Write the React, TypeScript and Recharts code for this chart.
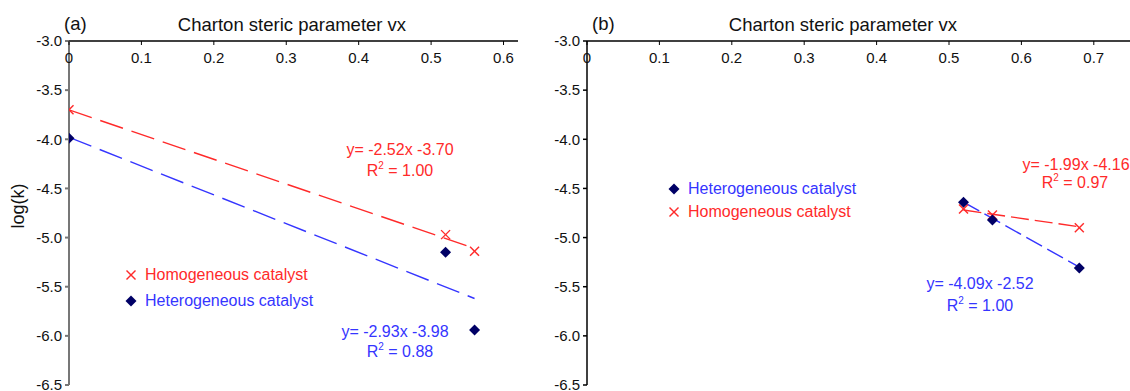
import { ScatterChart, Scatter, XAxis, YAxis, Legend } from 'recharts';

const FONT = '"Liberation Sans", Arial, sans-serif';

// panel (a)
const aX = [0, 0.52, 0.56];
const aHomo = [-3.7, -4.97, -5.14];
const aHetero = [-3.99, -5.15, -5.94];
const aFitX = [0, 0.56];
const aHomoFit = [-3.7, -5.11];
const aHeteroFit = [-3.98, -5.62];
const aXTicks = [0, 0.1, 0.2, 0.3, 0.4, 0.5, 0.6];

// panel (b)
const bX = [0.52, 0.56, 0.68];
const bHetero = [-4.64, -4.82, -5.31];
const bHomo = [-4.71, -4.77, -4.9];
const bFitX = [0.52, 0.68];
const bHeteroFit = [-4.64, -5.3];
const bHomoFit = [-4.72, -4.89];
const bXTicks = [0, 0.1, 0.2, 0.3, 0.4, 0.5, 0.6, 0.7];

const yTicks = [-6.5, -6.0, -5.5, -5.0, -4.5, -4.0, -3.5, -3.0];

const RED = '#ff2a2a';
const BLUE = '#3535ff';
const NAVY = '#000066';

const pts = (xs: number[], ys: number[]) => xs.map((x, i) => ({ x, y: ys[i] }));

const Cross = ({ cx, cy }: any) => (
  <g stroke={RED} strokeWidth={1.4}>
    <line x1={cx - 4.5} y1={cy - 4.5} x2={cx + 4.5} y2={cy + 4.5} />
    <line x1={cx - 4.5} y1={cy + 4.5} x2={cx + 4.5} y2={cy - 4.5} />
  </g>
);

const Diamond = ({ cx, cy }: any) => (
  <polygon
    points={`${cx},${cy - 5.5} ${cx + 5.5},${cy} ${cx},${cy + 5.5} ${cx - 5.5},${cy}`}
    fill={NAVY}
  />
);

const NoDot = () => <g />;

const TopTick = (props: any) => {
  const { x, y, payload } = props;
  return (
    <g>
      <line x1={x} x2={x} y1={y} y2={y + 4} stroke="#000" />
      <text x={x} y={y + 22} textAnchor="middle" fontSize={15} fill="#111" fontFamily={FONT}>
        {String(payload.value)}
      </text>
    </g>
  );
};

type Item = { kind: 'x' | 'd'; label: string; color: string };

const legendContent = (items: Item[], rowH: number) => () => (
  <div style={{ fontFamily: FONT, fontSize: 16 }}>
    {items.map((it) => (
      <div key={it.label} style={{ display: 'flex', alignItems: 'center', height: rowH }}>
        <svg width={12} height={12}>
          {it.kind === 'x' ? <Cross cx={6} cy={6} /> : <Diamond cx={6} cy={6} />}
        </svg>
        <span style={{ marginLeft: 8, color: it.color, whiteSpace: 'nowrap' }}>{it.label}</span>
      </div>
    ))}
  </div>
);

interface PanelProps {
  left: number;
  width: number;
  marginLeft: number;
  marginRight: number;
  yWidth: number;
  yTickSize: number;
  yTickMargin: number;
  yColor: string;
  yStroke: number;
  xMax: number;
  xTicks: number[];
  homo: { x: number; y: number }[];
  hetero: { x: number; y: number }[];
  homoFit: { x: number; y: number }[];
  heteroFit: { x: number; y: number }[];
  dash: string;
  legendItems: Item[];
  legendRow: number;
  legendLeft: number;
  legendTop: number;
}

function Panel(p: PanelProps) {
  return (
    <div style={{ position: 'absolute', left: p.left, top: 0 }}>
      <ScatterChart
        width={p.width}
        height={391}
        margin={{ top: 21, right: p.marginRight, bottom: 6, left: p.marginLeft }}
      >
        <XAxis
          type="number"
          dataKey="x"
          orientation="top"
          height={20}
          domain={[0, p.xMax]}
          ticks={p.xTicks}
          interval={0}
          tickSize={0}
          tickMargin={0}
          tick={TopTick}
          axisLine={{ stroke: '#000', strokeWidth: 1.3 }}
          allowDataOverflow
        />
        <YAxis
          type="number"
          dataKey="y"
          width={p.yWidth}
          domain={[-6.5, -3]}
          ticks={yTicks}
          interval={0}
          tickSize={p.yTickSize}
          tickMargin={p.yTickMargin}
          tickFormatter={(v: number) => v.toFixed(1)}
          tick={{ fontSize: 15, fill: '#111', fontFamily: FONT }}
          tickLine={{ stroke: p.yColor, strokeWidth: p.yStroke }}
          axisLine={{ stroke: p.yColor, strokeWidth: p.yStroke }}
        />
        <Scatter
          name="homoFit"
          data={p.homoFit}
          line={{ stroke: RED, strokeWidth: 1.4, strokeDasharray: p.dash }}
          shape={NoDot}
          legendType="none"
          isAnimationActive={false}
        />
        <Scatter
          name="heteroFit"
          data={p.heteroFit}
          line={{ stroke: BLUE, strokeWidth: 1.4, strokeDasharray: p.dash }}
          shape={NoDot}
          legendType="none"
          isAnimationActive={false}
        />
        <Scatter name="Homogeneous catalyst" data={p.homo} shape={Cross} isAnimationActive={false} />
        <Scatter name="Heterogeneous catalyst" data={p.hetero} shape={Diamond} isAnimationActive={false} />
        <Legend
          layout="vertical"
          align="center"
          verticalAlign="middle"
          content={legendContent(p.legendItems, p.legendRow)}
          wrapperStyle={{ left: p.legendLeft, top: p.legendTop, width: 220, height: 'auto' }}
        />
      </ScatterChart>
    </div>
  );
}

const R2 = ({ x, y, color, value }: { x: number; y: number; color: string; value: string }) => (
  <text x={x} y={y} textAnchor="middle" fontSize={16} fill={color}>
    R
    <tspan dy={-7} fontSize={10}>
      2
    </tspan>
    <tspan dy={7}>{` = ${value}`}</tspan>
  </text>
);

export default function App() {
  return (
    <div style={{ position: 'absolute', left: 0, top: 0, width: 1130, height: 391, background: '#fff' }}>
      <Panel
        left={0}
        width={560}
        marginLeft={9}
        marginRight={42}
        yWidth={60}
        yTickSize={4}
        yTickMargin={3}
        yColor="#777"
        yStroke={2}
        xMax={0.62}
        xTicks={aXTicks}
        homo={pts(aX, aHomo)}
        hetero={pts(aX, aHetero)}
        homoFit={pts(aFitX, aHomoFit)}
        heteroFit={pts(aFitX, aHeteroFit)}
        dash="24 9"
        legendItems={[
          { kind: 'x', label: 'Homogeneous catalyst', color: RED },
          { kind: 'd', label: 'Heterogeneous catalyst', color: BLUE },
        ]}
        legendRow={26}
        legendLeft={125}
        legendTop={262}
      />
      <Panel
        left={530}
        width={600}
        marginLeft={0}
        marginRight={0}
        yWidth={57}
        yTickSize={4}
        yTickMargin={3}
        yColor="#000"
        yStroke={1.5}
        xMax={0.75}
        xTicks={bXTicks}
        homo={pts(bX, bHomo)}
        hetero={pts(bX, bHetero)}
        homoFit={pts(bFitX, bHomoFit)}
        heteroFit={pts(bFitX, bHeteroFit)}
        dash="18 6"
        legendItems={[
          { kind: 'd', label: 'Heterogeneous catalyst', color: BLUE },
          { kind: 'x', label: 'Homogeneous catalyst', color: RED },
        ]}
        legendRow={23}
        legendLeft={138}
        legendTop={177}
      />
      <svg
        width={1130}
        height={391}
        style={{ position: 'absolute', left: 0, top: 0, pointerEvents: 'none' }}
        fontFamily={FONT}
      >
        <text x={64} y={30} fontSize={18.5} fill="#111">(a)</text>
        <text x={292} y={31} textAnchor="middle" fontSize={18.5} fill="#111">
          Charton steric parameter vx
        </text>
        <text transform="translate(24,206) rotate(-90)" textAnchor="middle" fontSize={18} fill="#111">
          log(k)
        </text>
        <text x={400} y={155} textAnchor="middle" fontSize={16} fill={RED}>
          y= -2.52x -3.70
        </text>
        <R2 x={400} y={176} color={RED} value="1.00" />
        <text x={395} y={337} textAnchor="middle" fontSize={16} fill={BLUE}>
          y= -2.93x -3.98
        </text>
        <R2 x={400} y={357} color={BLUE} value="0.88" />

        <text x={592} y={30} fontSize={18.5} fill="#111">(b)</text>
        <text x={843} y={31} textAnchor="middle" fontSize={18.5} fill="#111">
          Charton steric parameter vx
        </text>
        <text x={1076} y={170} textAnchor="middle" fontSize={16} fill={RED}>
          y= -1.99x -4.16
        </text>
        <R2 x={1075} y={188} color={RED} value="0.97" />
        <text x={980} y={289} textAnchor="middle" fontSize={16} fill={BLUE}>
          y= -4.09x -2.52
        </text>
        <R2 x={980} y={311} color={BLUE} value="1.00" />
      </svg>
    </div>
  );
}
